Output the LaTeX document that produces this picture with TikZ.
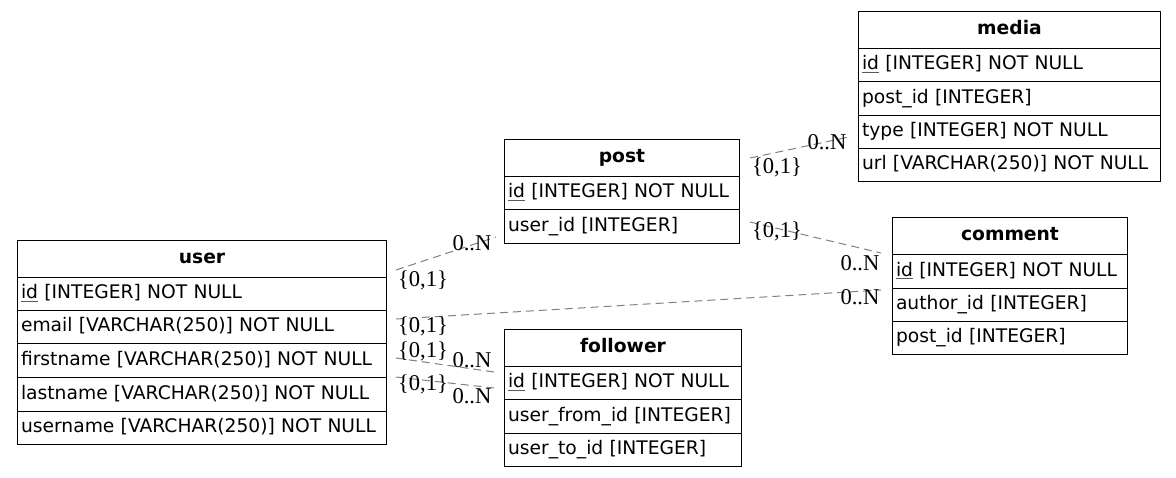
\documentclass[tikz,border=0pt]{standalone}
\usepackage{fontspec}
\newfontfamily\tabfont{DejaVu Sans}
\newfontfamily\cardfont{Liberation Serif}
\newcommand\keyfield[1]{\setbox0\hbox{#1}\rlap{\textcolor{black!65}{\rule[-2.6pt]{\wd0}{0.9pt}}}\box0\relax}
\begin{document}
\begin{tikzpicture}[x=1pt,y=-1pt,
  tblhead/.style={draw=black, line width=1pt, anchor=north west, inner sep=0pt,
    minimum height=37pt, text height=13.6pt, text depth=4pt,
    font=\tabfont\bfseries\fontsize{18.7}{22}\selectfont},
  tblrow/.style={draw=black, line width=1pt, anchor=north west, inner xsep=3.5pt, inner ysep=0pt,
    align=left, text height=13.6pt, text depth=4pt,
    font=\tabfont\fontsize{18.7}{22}\selectfont},
  rel/.style={draw=black!50, line width=1pt, dash pattern=on 8pt off 5pt},
  card/.style={inner sep=0pt, font=\cardfont\fontsize{22.6}{26}\selectfont}]
\useasboundingbox (0,0) rectangle (1176,477);

% user
\node[tblhead, minimum width=369pt] (user) at (17,240) {user};
\node[tblrow, text width=362pt, minimum height=33pt] (user-id) at (17,277) {\keyfield{id} [INTEGER] NOT NULL};
\node[tblrow, text width=362pt, minimum height=33pt] (user-email) at (17,310) {email [VARCHAR(250)] NOT NULL};
\node[tblrow, text width=362pt, minimum height=34pt] (user-first) at (17,343) {firstname [VARCHAR(250)] NOT NULL};
\node[tblrow, text width=362pt, minimum height=34pt] (user-last) at (17,377) {lastname [VARCHAR(250)] NOT NULL};
\node[tblrow, text width=362pt, minimum height=33pt] (user-uname) at (17,411) {username [VARCHAR(250)] NOT NULL};

% post
\node[tblhead, minimum width=235pt] (post) at (504,139) {post};
\node[tblrow, text width=228pt, minimum height=33pt] (post-id) at (504,176) {\keyfield{id} [INTEGER] NOT NULL};
\node[tblrow, text width=228pt, minimum height=34pt] (post-user) at (504,209) {user\_id [INTEGER]};

% follower
\node[tblhead, minimum width=237pt] (follower) at (504,329) {follower};
\node[tblrow, text width=230pt, minimum height=33pt] (follower-id) at (504,366) {\keyfield{id} [INTEGER] NOT NULL};
\node[tblrow, text width=230pt, minimum height=34pt] (follower-from) at (504,399) {user\_from\_id [INTEGER]};
\node[tblrow, text width=230pt, minimum height=33pt] (follower-to) at (504,433) {user\_to\_id [INTEGER]};

% media
\node[tblhead, minimum width=302pt] (media) at (858,11) {media};
\node[tblrow, text width=295pt, minimum height=33pt] (media-id) at (858,48) {\keyfield{id} [INTEGER] NOT NULL};
\node[tblrow, text width=295pt, minimum height=34pt] (media-post) at (858,81) {post\_id [INTEGER]};
\node[tblrow, text width=295pt, minimum height=33pt] (media-type) at (858,115) {type [INTEGER] NOT NULL};
\node[tblrow, text width=295pt, minimum height=33pt] (media-url) at (858,148) {url [VARCHAR(250)] NOT NULL};

% comment
\node[tblhead, minimum width=235pt] (comment) at (892,217) {comment};
\node[tblrow, text width=228pt, minimum height=34pt] (comment-id) at (892,254) {\keyfield{id} [INTEGER] NOT NULL};
\node[tblrow, text width=228pt, minimum height=33pt] (comment-author) at (892,288) {author\_id [INTEGER]};
\node[tblrow, text width=228pt, minimum height=33pt] (comment-post) at (892,321) {post\_id [INTEGER]};

% relationship end points
\coordinate (r1a) at (396,270); \coordinate (r1b) at (496,237);
\coordinate (r2a) at (750,158); \coordinate (r2b) at (849,137);
\coordinate (r3a) at (750,222); \coordinate (r3b) at (881,253);
\coordinate (r4a) at (396,319); \coordinate (r4b) at (881,290);
\coordinate (r5a) at (396,358); \coordinate (r5b) at (494,372);
\coordinate (r6a) at (396,377); \coordinate (r6b) at (494,388);

\draw[rel] (r1a) -- (r1b);
\draw[rel] (r2a) -- (r2b);
\draw[rel] (r3a) -- (r3b);
\draw[rel] (r4a) -- (r4b);
\draw[rel] (r5a) -- (r5b);
\draw[rel] (r6a) -- (r6b);

% cardinalities
\node[card] (c1a) at (423,280) {\{0,1\}};
\node[card] (c1b) at (472,243) {0..N};
\node[card] (c2a) at (777,167) {\{0,1\}};
\node[card] (c2b) at (827,142) {0..N};
\node[card] (c3a) at (777,231) {\{0,1\}};
\node[card] (c3b) at (860,263) {0..N};
\node[card] (c4a) at (423,326) {\{0,1\}};
\node[card] (c4b) at (860,297) {0..N};
\node[card] (c5a) at (423,351) {\{0,1\}};
\node[card] (c5b) at (472,360) {0..N};
\node[card] (c6a) at (423,384) {\{0,1\}};
\node[card] (c6b) at (472,396) {0..N};
\end{tikzpicture}
\end{document}
